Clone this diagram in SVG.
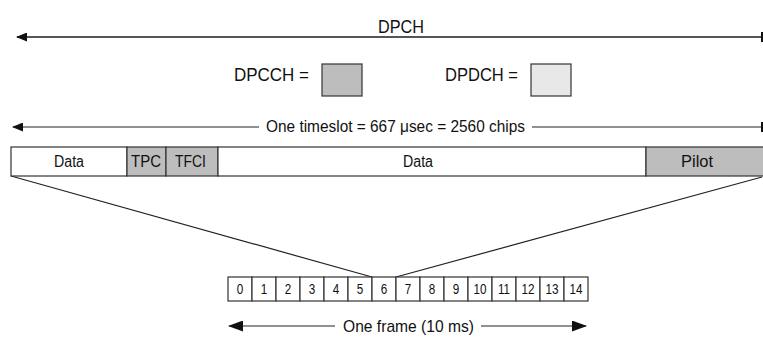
<svg xmlns="http://www.w3.org/2000/svg" width="763" height="337" viewBox="0 0 763 337">
<style>
text{font-family:"Liberation Sans",Arial,sans-serif;fill:#111;}
.h{font-size:19px;}
.t{font-size:18px;}
.m{font-size:17px;}
.s{font-size:16px;}
.n{font-size:14px;}
.box{stroke:#333;stroke-width:1.2;}
.dark{fill:#bdbdbd;}
.light{fill:#e8e8e8;}
.white{fill:#fff;}
.ln{stroke:#222;stroke-width:1.2;fill:none;}
.ar{stroke:#555;stroke-width:2;fill:none;}
.tick{stroke:#111;stroke-width:2;}
</style>
<defs>
<marker id="ah" viewBox="0 0 11 9" refX="10" refY="4.5" markerWidth="11" markerHeight="9" markerUnits="userSpaceOnUse" orient="auto-start-reverse">
<path d="M0,0 L11,4.5 L0,9 Z" fill="#111"/>
</marker>
<marker id="ah2" viewBox="0 0 15 11" refX="14" refY="5.5" markerWidth="15" markerHeight="11" markerUnits="userSpaceOnUse" orient="auto-start-reverse">
<path d="M0,0 L15,5.5 L0,11 Z" fill="#111"/>
</marker>
</defs>
<g id="connectors">
<line class="ar" x1="17" y1="37" x2="761" y2="37" marker-start="url(#ah)"/>
<line class="tick" x1="762" y1="32" x2="762" y2="42"/>
<line class="ln" x1="13" y1="127" x2="259" y2="127" marker-start="url(#ah)"/>
<line class="ln" x1="532" y1="127" x2="761" y2="127"/>
<line class="tick" x1="762" y1="122" x2="762" y2="132"/>
<line class="ln" x1="11" y1="176" x2="372" y2="277"/>
<line class="ln" x1="762" y1="177" x2="396" y2="277"/>
<line class="ln" x1="229" y1="326" x2="335" y2="326" marker-start="url(#ah2)"/>
<line class="ln" x1="481" y1="326" x2="586" y2="326" marker-end="url(#ah2)"/>
</g>
<g id="labels">
<text class="h" x="378" y="33" textLength="46" lengthAdjust="spacingAndGlyphs">DPCH</text>
<text class="m" x="266" y="132" textLength="259" lengthAdjust="spacingAndGlyphs">One timeslot = 667 μsec = 2560 chips</text>
<text class="m" x="343" y="332" textLength="131" lengthAdjust="spacingAndGlyphs">One frame (10 ms)</text>
</g>
<g id="legend-dpcch">
<text class="t" x="234" y="81" textLength="75" lengthAdjust="spacingAndGlyphs">DPCCH =</text>
<rect class="box dark" x="322" y="64" width="40" height="32"/>
</g>
<g id="legend-dpdch">
<text class="t" x="445" y="81" textLength="73" lengthAdjust="spacingAndGlyphs">DPDCH =</text>
<rect class="box light" x="531" y="64" width="40" height="32"/>
</g>
<g id="slot">
<g id="f-data1"><rect class="box white" x="11" y="147" width="116" height="29"/><text class="s" x="54" y="167" textLength="30" lengthAdjust="spacingAndGlyphs">Data</text></g>
<g id="f-tpc"><rect class="box dark" x="127" y="147" width="39" height="29"/><text class="s" x="131" y="167" textLength="30" lengthAdjust="spacingAndGlyphs">TPC</text></g>
<g id="f-tfci"><rect class="box dark" x="166" y="147" width="52" height="29"/><text class="s" x="175" y="167" textLength="31" lengthAdjust="spacingAndGlyphs">TFCI</text></g>
<g id="f-data2"><rect class="box white" x="218" y="147" width="428" height="29"/><text class="s" x="403" y="167" textLength="30" lengthAdjust="spacingAndGlyphs">Data</text></g>
<g id="f-pilot"><rect class="box dark" x="646" y="147" width="118" height="29"/><text class="s" x="681" y="167" textLength="32" lengthAdjust="spacingAndGlyphs">Pilot</text></g>
</g>
<g id="frame">
<g id="s0"><rect class="box white" x="228" y="277" width="24" height="24"/><text class="n" x="236.8" y="294" textLength="6.5" lengthAdjust="spacingAndGlyphs">0</text></g>
<g id="s1"><rect class="box white" x="252" y="277" width="24" height="24"/><text class="n" x="260.8" y="294" textLength="6.5" lengthAdjust="spacingAndGlyphs">1</text></g>
<g id="s2"><rect class="box white" x="276" y="277" width="24" height="24"/><text class="n" x="284.8" y="294" textLength="6.5" lengthAdjust="spacingAndGlyphs">2</text></g>
<g id="s3"><rect class="box white" x="300" y="277" width="24" height="24"/><text class="n" x="308.8" y="294" textLength="6.5" lengthAdjust="spacingAndGlyphs">3</text></g>
<g id="s4"><rect class="box white" x="324" y="277" width="24" height="24"/><text class="n" x="332.8" y="294" textLength="6.5" lengthAdjust="spacingAndGlyphs">4</text></g>
<g id="s5"><rect class="box white" x="348" y="277" width="24" height="24"/><text class="n" x="356.8" y="294" textLength="6.5" lengthAdjust="spacingAndGlyphs">5</text></g>
<g id="s6"><rect class="box white" x="372" y="277" width="24" height="24"/><text class="n" x="380.8" y="294" textLength="6.5" lengthAdjust="spacingAndGlyphs">6</text></g>
<g id="s7"><rect class="box white" x="396" y="277" width="24" height="24"/><text class="n" x="404.8" y="294" textLength="6.5" lengthAdjust="spacingAndGlyphs">7</text></g>
<g id="s8"><rect class="box white" x="420" y="277" width="24" height="24"/><text class="n" x="428.8" y="294" textLength="6.5" lengthAdjust="spacingAndGlyphs">8</text></g>
<g id="s9"><rect class="box white" x="444" y="277" width="24" height="24"/><text class="n" x="452.8" y="294" textLength="6.5" lengthAdjust="spacingAndGlyphs">9</text></g>
<g id="s10"><rect class="box white" x="468" y="277" width="24" height="24"/><text class="n" x="473.5" y="294" textLength="13" lengthAdjust="spacingAndGlyphs">10</text></g>
<g id="s11"><rect class="box white" x="492" y="277" width="24" height="24"/><text class="n" x="498" y="294" textLength="12" lengthAdjust="spacingAndGlyphs">11</text></g>
<g id="s12"><rect class="box white" x="516" y="277" width="24" height="24"/><text class="n" x="521.5" y="294" textLength="13" lengthAdjust="spacingAndGlyphs">12</text></g>
<g id="s13"><rect class="box white" x="540" y="277" width="24" height="24"/><text class="n" x="545.5" y="294" textLength="13" lengthAdjust="spacingAndGlyphs">13</text></g>
<g id="s14"><rect class="box white" x="564" y="277" width="24" height="24"/><text class="n" x="569.5" y="294" textLength="13" lengthAdjust="spacingAndGlyphs">14</text></g>
</g>
</svg>
